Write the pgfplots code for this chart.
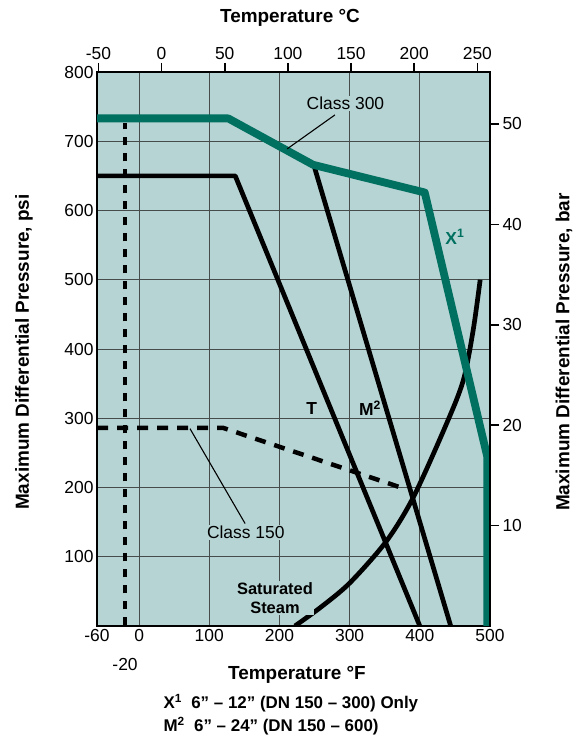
\documentclass[border=0pt]{standalone}
\usepackage{pgfplots}
\pgfplotsset{compat=1.18}
\usepackage{fontspec}
\setmainfont{Liberation Sans}
\definecolor{bgc}{RGB}{183,212,212}
\definecolor{grn}{RGB}{0,112,96}
\definecolor{gridc}{RGB}{70,75,75}
\newcommand\tickfont{\fontsize{17.5}{20}\selectfont}
\newcommand\titlefont{\fontsize{19}{22}\selectfont\bfseries}
\begin{document}
\begin{tikzpicture}
\useasboundingbox (0,0) rectangle (588bp,739bp);
\begin{axis}[
  at={(97bp,113bp)}, anchor=south west,
  scale only axis, width=393bp, height=554bp,
  xmin=-60, xmax=500, ymin=0, ymax=800,
  axis background/.style={fill=bgc},
  axis line style={line width=1.8bp, black},
  xtick={-60,0,100,200,300,400,500},
  xticklabels={-60,0,100,200,300,400,500},
  ytick={100,200,300,400,500,600,700,800},
  yticklabels={100,200,300,400,500,600,700,800},
  extra x ticks={-20}, extra x tick labels={-20},
  extra x tick style={grid=none, tick label style={yshift=-29bp}},
  major tick length=0pt,
  grid=major,
  major grid style={gridc, line width=0.9bp},
  tick label style={font=\tickfont},
  clip mode=individual,
]
% Class 300 T
\addplot[black, line width=4.7bp, line join=round] coordinates {(-60,650) (137,650) (400,0)};
% M2
\addplot[black, line width=4.7bp] coordinates {(250,662) (444,0)};
% Class 150 dashed
\addplot[black, line width=4.5bp, dash pattern=on 11bp off 9bp] coordinates {(-60,286) (120,286) (370,201)};
% -20 F vertical dashed
\addplot[black, line width=4.5bp, dash pattern=on 8bp off 8bp] coordinates {(-20,1) (-20,727)};
% Saturated steam
\addplot[black, line width=4.7bp, smooth] coordinates {(222,0) (260,28) (300.5,62.5) (351.8,121.7) (390.7,185.8) (438.3,292.7) (462,355) (476,427) (486,500)};
% X1 / Class 300 green
\addplot[grn, line width=7.8bp, line join=round] coordinates {(-60,733) (127,733) (248,666) (407,626) (496,245) (496,0)};
% leader lines
\addplot[black, line width=1.1bp] coordinates {(279,738) (211,689)};
\addplot[black, line width=1.1bp] coordinates {(151,148) (72.5,285)};
% labels
\node[fill=bgc, inner sep=1bp, font=\tickfont] at (axis cs:294,755) {Class 300};
\node[fill=bgc, inner sep=1bp, font=\tickfont] at (axis cs:152,134.7) {Class 150};
\node[fill=bgc, inner sep=1bp, font=\fontsize{16.5}{19.7}\selectfont\bfseries, align=center] at (axis cs:193.6,40.4) {Saturated\\Steam};
\node[font=\fontsize{17.5}{20}\selectfont\bfseries] at (axis cs:246,314) {T};
\node[font=\fontsize{17.5}{20}\selectfont\bfseries] at (axis cs:329,314) {M\textsuperscript{2}};
\node[font=\fontsize{17.5}{20}\selectfont\bfseries, text=grn] at (axis cs:450,562) {X\textsuperscript{1}};
\end{axis}
\begin{axis}[
  at={(97bp,113bp)}, anchor=south west,
  scale only axis, width=393bp, height=554bp,
  xmin=-51.111, xmax=260, ymin=0, ymax=55.1724,
  axis x line*=top, axis y line*=right,
  axis line style={line width=1.8bp, black},
  xtick={-50,0,50,100,150,200,250},
  xticklabels={-50,0,50,100,150,200,250},
  ytick={10,20,30,40,50},
  yticklabels={10,20,30,40,50},
  tick align=outside, major tick length=9bp,
  every tick/.style={black, line width=1.6bp},
  tick label style={font=\tickfont},
]
\end{axis}
\node[font=\titlefont] at (290bp,721bp) {Temperature °C};
\node[font=\titlefont] at (297bp,64bp) {Temperature °F};
\node[font=\titlefont, rotate=90] at (24bp,387bp) {Maximum Differential Pressure, psi};
\node[font=\titlefont, rotate=90] at (564bp,387bp) {Maximum Differential Pressure, bar};
\node[font=\fontsize{17}{19}\selectfont\bfseries, anchor=west] at (160bp,36bp) {X\textsuperscript{1}\ \ 6” – 12” (DN 150 – 300) Only};
\node[font=\fontsize{17}{19}\selectfont\bfseries, anchor=west] at (160bp,13bp) {M\textsuperscript{2}\ \ 6” – 24” (DN 150 – 600)};
\end{tikzpicture}
\end{document}
